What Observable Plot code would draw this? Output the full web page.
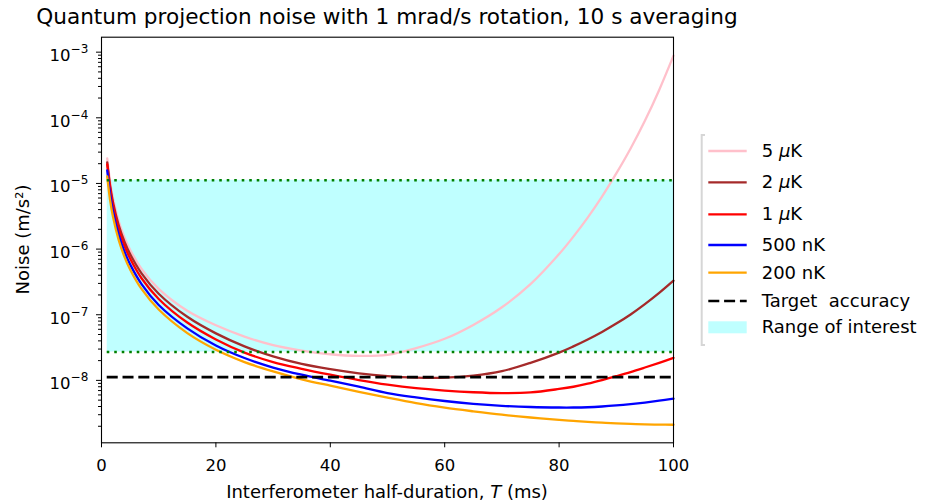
<!DOCTYPE html>
<html>
<head>
<meta charset="utf-8">
<script src="https://cdn.jsdelivr.net/npm/d3@7"></script>
<script src="https://cdn.jsdelivr.net/npm/@observablehq/plot@0.6"></script>
<style>
  html, body { margin: 0; padding: 0; background: #fff; }
  #chart { position: relative; width: 933px; height: 504px; }
  svg text { font-family: "DejaVu Sans", sans-serif; }
</style>
</head>
<body>
<div id="chart"></div>
<script>
// ---- Data ----
const T = [1, 1.5, 2, 3, 4, 5, 7, 10, 15, 20, 25, 30, 35, 40, 45, 50, 55, 60, 65, 70, 75, 80, 82.5, 85, 87.5, 90, 92.5, 95, 97.5, 100];

const noise5uK   = [2.4e-5, 1.07e-5, 6.0e-6, 2.68e-6, 1.52e-6, 9.8e-7, 5.0e-7, 2.48e-7, 1.15e-7, 6.9e-8, 4.65e-8, 3.45e-8, 2.85e-8, 2.5e-8, 2.36e-8, 2.45e-8, 3.1e-8, 4.3e-8, 7.0e-8, 1.3e-7, 2.92e-7, 8.4e-7, 1.55e-6, 3.02e-6, 6.3e-6, 1.42e-5, 3.41e-5, 9.0e-5, 2.66e-4, 8.85e-4];
const noise2uK   = [2.09e-5, 9.3e-6, 5.2e-6, 2.32e-6, 1.31e-6, 8.4e-7, 4.27e-7, 2.09e-7, 9.3e-8, 5.2e-8, 3.3e-8, 2.32e-8, 1.78e-8, 1.48e-8, 1.28e-8, 1.16e-8, 1.1e-8, 1.1e-8, 1.18e-8, 1.38e-8, 1.85e-8, 2.65e-8, 3.3e-8, 4.2e-8, 5.47e-8, 7.33e-8, 1.01e-7, 1.45e-7, 2.15e-7, 3.3e-7];
const noise1uK   = [1.95e-5, 8.6e-6, 4.7e-6, 2.05e-6, 1.13e-6, 7.2e-7, 3.6e-7, 1.74e-7, 7.6e-8, 4.2e-8, 2.65e-8, 1.9e-8, 1.5e-8, 1.22e-8, 1.01e-8, 8.6e-9, 7.6e-9, 7.0e-9, 6.6e-9, 6.4e-9, 6.55e-9, 7.4e-9, 8.0e-9, 8.9e-9, 1.01e-8, 1.16e-8, 1.34e-8, 1.57e-8, 1.85e-8, 2.2e-8];
const noise500nK = [1.58e-5, 6.9e-6, 3.82e-6, 1.66e-6, 9.2e-7, 5.85e-7, 2.93e-7, 1.41e-7, 6.2e-8, 3.4e-8, 2.19e-8, 1.57e-8, 1.22e-8, 9.9e-9, 8.0e-9, 6.4e-9, 5.5e-9, 4.85e-9, 4.4e-9, 4.1e-9, 3.93e-9, 3.86e-9, 3.86e-9, 3.9e-9, 4.0e-9, 4.15e-9, 4.35e-9, 4.6e-9, 4.9e-9, 5.26e-9];
const noise200nK = [1.28e-5, 5.6e-6, 3.13e-6, 1.38e-6, 7.7e-7, 4.9e-7, 2.47e-7, 1.2e-7, 5.25e-8, 2.93e-8, 1.9e-8, 1.37e-8, 1.04e-8, 8.3e-9, 6.7e-9, 5.45e-9, 4.5e-9, 3.85e-9, 3.38e-9, 3.0e-9, 2.72e-9, 2.5e-9, 2.41e-9, 2.33e-9, 2.27e-9, 2.21e-9, 2.17e-9, 2.14e-9, 2.12e-9, 2.11e-9];

const seriesTemps  = ["5", "2", "1", "500", "200"];
const seriesUnits  = ["μK", "μK", "μK", "nK", "nK"];
const seriesNames  = ["5 μK", "2 μK", "1 μK", "500 nK", "200 nK"];
const seriesColors = ["pink", "brown", "red", "blue", "orange"];
const seriesValues = [noise5uK, noise2uK, noise1uK, noise500nK, noise200nK];

const targetAccuracy = 1.12e-8;
const rangeLow = 2.7e-8;
const rangeHigh = 1.12e-5;

const xTicks = [0, 20, 40, 60, 80, 100];
const yTickExponents = [-8, -7, -6, -5, -4, -3];
const yDomain = [1.12e-9, 1.69e-3];

const titleText = "Quantum projection noise with 1 mrad/s rotation, 10 s averaging";

// ---- Tables built from the arrays ----
const rows = [];
seriesNames.forEach((name, i) => T.forEach((t, j) => rows.push({T: t, noise: seriesValues[i][j], series: name})));
const band = T.map(t => ({T: t, lo: rangeLow, hi: rangeHigh}));
const hRange = [rangeLow, rangeHigh].map(v => ({y: v, x1: T[0], x2: T[T.length - 1]}));
const hTarget = [{y: targetAccuracy, x1: T[0], x2: T[T.length - 1]}];

const majors = yTickExponents.map(e => Math.pow(10, e));
const minors = [];
for (let e = -9; e <= -3; e++) for (let m = 2; m <= 9; m++) {
  const v = m * Math.pow(10, e);
  if (v >= yDomain[0] && v <= yDomain[1]) minors.push(v);
}

const dotted = "2.6,4.9";
const dashed = "11,4.8";

const chart = Plot.plot({
  width: 933,
  height: 504,
  marginTop: 36.7,
  marginBottom: 61.7,
  marginLeft: 101,
  marginRight: 260,
  style: {fontFamily: "DejaVu Sans, sans-serif", fontSize: "16.5px", color: "#000", background: "#fff", overflow: "visible"},
  x: {domain: [0, 100]},
  y: {type: "log", domain: yDomain},
  color: {domain: seriesNames, range: seriesColors},
  marks: [
    Plot.areaY(band, {x: "T", y1: "lo", y2: "hi", fill: "cyan", fillOpacity: 0.25}),
    Plot.line(rows, {x: "T", y: "noise", z: "series", stroke: "series", strokeWidth: 2.3, curve: "catmull-rom"}),
    Plot.ruleY(hRange, {y: "y", x1: "x1", x2: "x2", stroke: "green", strokeWidth: 2.6, strokeDasharray: dotted}),
    Plot.ruleY(hTarget, {y: "y", x1: "x1", x2: "x2", stroke: "black", strokeWidth: 2.6, strokeDasharray: dashed}),
    Plot.axisY({ticks: minors, tickSize: 3, tickFormat: () => "", label: null}),
    Plot.axisY({ticks: majors, tickSize: 5, tickFormat: () => "", label: null}),
    Plot.axisX({ticks: xTicks, tickSize: 5, tickPadding: 11, label: null, fontSize: "16.5px"}),
    Plot.frame({stroke: "black", strokeWidth: 1.1})
  ]
});

document.getElementById("chart").appendChild(chart);

const svg = d3.select(chart);
const yScale = chart.scale("y");
const xScale = chart.scale("x");
const x0 = xScale.apply(0), x100 = xScale.apply(100);
const xc = (x0 + x100) / 2;

// y tick labels: 10^n with superscript exponent
const yl = svg.append("g").attr("font-size", "16.5px").attr("text-anchor", "end");
yTickExponents.forEach(e => {
  const y = yScale.apply(Math.pow(10, e));
  const t = yl.append("text").attr("x", x0 - 12.7).attr("y", y + 9.5);
  t.append("tspan").text("10");
  t.append("tspan").attr("dy", -8).attr("font-size", "12px").text("−" + Math.abs(e));
});

// title
svg.append("text").attr("x", xc).attr("y", 24).attr("text-anchor", "middle")
  .attr("font-size", "21.6px").text(titleText);

// x label
const xl = svg.append("text").attr("x", xc).attr("y", 498).attr("text-anchor", "middle").attr("font-size", "18px");
xl.append("tspan").text("Interferometer half-duration, ");
xl.append("tspan").attr("font-style", "italic").text("T");
xl.append("tspan").text(" (ms)");

// y label
const yc = (yScale.apply(yDomain[0]) + yScale.apply(yDomain[1])) / 2;
svg.append("text").attr("transform", `translate(28.5,${yc}) rotate(-90)`).attr("text-anchor", "middle")
  .attr("font-size", "18px").text("Noise (m/s²)");

// legend
const lg = svg.append("g").attr("font-size", "18px").attr("text-anchor", "start");
lg.append("path").attr("d", "M705,135 H701.7 V345 H705").attr("fill", "none").attr("stroke", "#d6d6d6").attr("stroke-width", 2);
const rowY = [151, 182.3, 214.3, 245, 272.7, 301, 327.3];
const hx1 = 708.3, hx2 = 746.7, tx = 761.7;
seriesNames.forEach((name, i) => {
  const y = rowY[i];
  lg.append("line").attr("x1", hx1).attr("x2", hx2).attr("y1", y).attr("y2", y)
    .attr("stroke", seriesColors[i]).attr("stroke-width", 2.3);
  const t = lg.append("text").attr("x", tx).attr("y", y).attr("dy", "0.33em").attr("text-anchor", "start");
  t.append("tspan").text(seriesTemps[i] + " ");
  if (seriesUnits[i] === "μK") {
    t.append("tspan").attr("font-style", "italic").text("μ");
    t.append("tspan").text("K");
  } else {
    t.append("tspan").text(seriesUnits[i]);
  }
});
lg.append("line").attr("x1", hx1).attr("x2", hx2).attr("y1", rowY[5]).attr("y2", rowY[5])
  .attr("stroke", "black").attr("stroke-width", 2.6).attr("stroke-dasharray", dashed);
lg.append("text").attr("x", tx).attr("y", rowY[5]).attr("dy", "0.33em").attr("text-anchor", "start")
  .style("white-space", "pre").text("Target  accuracy");
lg.append("rect").attr("x", hx1).attr("y", rowY[6] - 6).attr("width", hx2 - hx1).attr("height", 12)
  .attr("fill", "cyan").attr("fill-opacity", 0.25);
lg.append("text").attr("x", tx).attr("y", rowY[6]).attr("dy", "0.33em").attr("text-anchor", "start").text("Range of interest");
</script>
</body>
</html>
